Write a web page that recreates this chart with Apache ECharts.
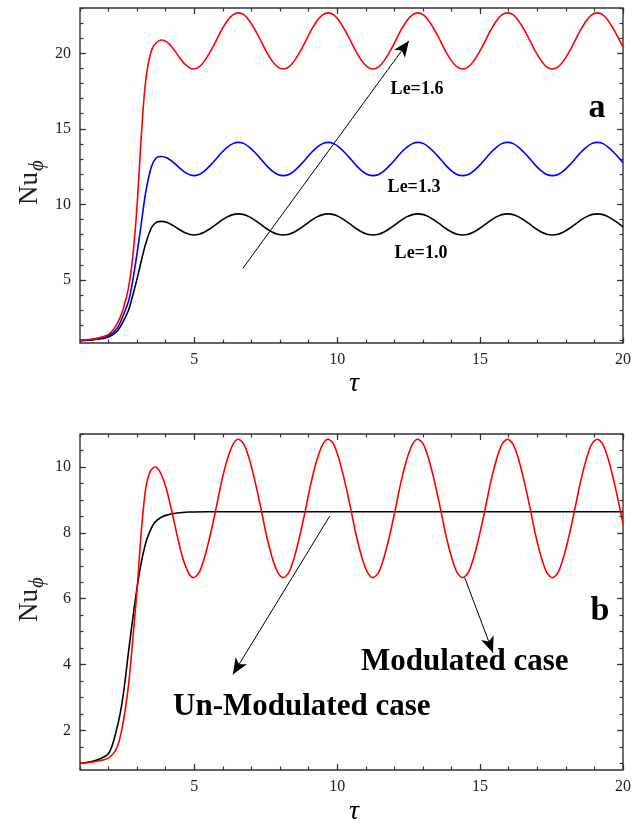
<!DOCTYPE html>
<html>
<head>
<meta charset="utf-8">
<script src="https://cdn.jsdelivr.net/npm/echarts@6/dist/echarts.min.js"></script>
<style>
html,body{margin:0;padding:0;background:#fff}
#main{width:643px;height:828px}
</style>
</head>
<body>
<div id="main"></div>
<script>
// tau samples: start-up part for each panel, then the oscillating part (shared)
var tauRiseA = [1.0, 1.5, 2.0, 2.3, 2.5, 2.7, 2.85, 3.0, 3.15, 3.3, 3.5, 3.68, 3.85, 4.05, 4.25, 4.45, 4.7];
var tauRiseB = [1.0, 1.5, 2.0, 2.3, 2.5, 2.7, 2.85, 3.0, 3.15, 3.3, 3.45, 3.62, 3.8, 4.0, 4.2, 4.4, 4.6, 4.8];
var tauWave = [
  4.97, 5.17, 5.36, 5.56, 5.76, 5.95, 6.15, 6.35, 6.54, 6.74, 6.93, 7.13, 7.33, 7.52, 7.72, 7.92,
  8.11, 8.31, 8.50, 8.70, 8.90, 9.09, 9.29, 9.49, 9.68, 9.88, 10.07, 10.27, 10.47, 10.66, 10.86, 11.06,
  11.25, 11.45, 11.64, 11.84, 12.04, 12.23, 12.43, 12.63, 12.82, 13.02, 13.21, 13.41, 13.61, 13.80, 14.00, 14.19,
  14.39, 14.59, 14.78, 14.98, 15.18, 15.37, 15.57, 15.76, 15.96, 16.16, 16.35, 16.55, 16.75, 16.94, 17.14, 17.33,
  17.53, 17.73, 17.92, 18.12, 18.32, 18.51, 18.71, 18.90, 19.10, 19.30, 19.49, 19.69, 19.89, 20.0];

// panel a: Nu_phi for Le = 1.6, 1.3, 1.0
var le16Rise = [1.02, 1.1, 1.38, 2.1, 3.0, 4.5, 6.6, 10.0, 14.7, 18.2, 20.2, 20.72, 20.88, 20.74, 20.33, 19.81, 19.23];
var le16Wave = [
  18.96, 19.10, 19.50, 20.11, 20.82, 21.53, 22.14, 22.54, 22.68, 22.54, 22.14, 21.53, 20.82, 20.11, 19.50, 19.10,
  18.96, 19.10, 19.50, 20.11, 20.82, 21.53, 22.14, 22.54, 22.68, 22.54, 22.14, 21.53, 20.82, 20.11, 19.50, 19.10,
  18.96, 19.10, 19.50, 20.11, 20.82, 21.53, 22.14, 22.54, 22.68, 22.54, 22.14, 21.53, 20.82, 20.11, 19.50, 19.10,
  18.96, 19.10, 19.50, 20.11, 20.82, 21.53, 22.14, 22.54, 22.68, 22.54, 22.14, 21.53, 20.82, 20.11, 19.50, 19.10,
  18.96, 19.10, 19.50, 20.11, 20.82, 21.53, 22.14, 22.54, 22.68, 22.54, 22.14, 21.53, 20.82, 20.4];
var le13Rise = [1.0, 1.07, 1.3, 1.8, 2.6, 3.6, 5.0, 6.8, 8.8, 10.8, 12.5, 13.1, 13.17, 13.07, 12.81, 12.47, 12.08];
var le13Wave = [
  11.9, 11.98, 12.22, 12.58, 13.0, 13.42, 13.78, 14.02, 14.1, 14.02, 13.78, 13.42, 13.0, 12.58, 12.22, 11.98,
  11.9, 11.98, 12.22, 12.58, 13.0, 13.42, 13.78, 14.02, 14.1, 14.02, 13.78, 13.42, 13.0, 12.58, 12.22, 11.98,
  11.9, 11.98, 12.22, 12.58, 13.0, 13.42, 13.78, 14.02, 14.1, 14.02, 13.78, 13.42, 13.0, 12.58, 12.22, 11.98,
  11.9, 11.98, 12.22, 12.58, 13.0, 13.42, 13.78, 14.02, 14.1, 14.02, 13.78, 13.42, 13.0, 12.58, 12.22, 11.98,
  11.9, 11.98, 12.22, 12.58, 13.0, 13.42, 13.78, 14.02, 14.1, 14.02, 13.78, 13.42, 13.0, 12.75];
var le10Rise = [0.98, 1.04, 1.22, 1.6, 2.2, 3.0, 4.0, 5.1, 6.3, 7.4, 8.45, 8.82, 8.87, 8.8, 8.61, 8.37, 8.1];
var le10Wave = [
  7.97, 8.02, 8.17, 8.40, 8.67, 8.94, 9.17, 9.32, 9.37, 9.32, 9.17, 8.94, 8.67, 8.40, 8.17, 8.02,
  7.97, 8.02, 8.17, 8.40, 8.67, 8.94, 9.17, 9.32, 9.37, 9.32, 9.17, 8.94, 8.67, 8.40, 8.17, 8.02,
  7.97, 8.02, 8.17, 8.40, 8.67, 8.94, 9.17, 9.32, 9.37, 9.32, 9.17, 8.94, 8.67, 8.40, 8.17, 8.02,
  7.97, 8.02, 8.17, 8.40, 8.67, 8.94, 9.17, 9.32, 9.37, 9.32, 9.17, 8.94, 8.67, 8.40, 8.17, 8.02,
  7.97, 8.02, 8.17, 8.40, 8.67, 8.94, 9.17, 9.32, 9.37, 9.32, 9.17, 8.94, 8.67, 8.5];

// panel b: modulated vs un-modulated
var modRise = [1.0, 1.05, 1.17, 1.5, 2.2, 3.4, 4.8, 6.3, 8.1, 9.35, 9.85, 10.0, 9.85, 9.4, 8.7, 7.92, 7.22, 6.78];
var modWave = [
  6.64, 6.80, 7.26, 7.94, 8.74, 9.54, 10.22, 10.68, 10.84, 10.68, 10.22, 9.54, 8.74, 7.94, 7.26, 6.80,
  6.64, 6.80, 7.26, 7.94, 8.74, 9.54, 10.22, 10.68, 10.84, 10.68, 10.22, 9.54, 8.74, 7.94, 7.26, 6.80,
  6.64, 6.80, 7.26, 7.94, 8.74, 9.54, 10.22, 10.68, 10.84, 10.68, 10.22, 9.54, 8.74, 7.94, 7.26, 6.80,
  6.64, 6.80, 7.26, 7.94, 8.74, 9.54, 10.22, 10.68, 10.84, 10.68, 10.22, 9.54, 8.74, 7.94, 7.26, 6.80,
  6.64, 6.80, 7.26, 7.94, 8.74, 9.54, 10.22, 10.68, 10.84, 10.68, 10.22, 9.54, 8.74, 8.26];
var tauUnmod = [1.0, 1.5, 2.0, 2.3, 2.5, 2.7, 2.9, 3.1, 3.3, 3.45, 3.6, 3.8, 4.0, 4.4, 4.8, 5.5, 20.0];
var nuUnmod = [1.0, 1.08, 1.3, 2.1, 3.0, 4.4, 5.75, 6.9, 7.7, 8.05, 8.3, 8.45, 8.53, 8.6, 8.63, 8.64, 8.64];

// ticks
var xMajor = [5, 10, 15, 20];
var xMinor = [1, 2, 3, 4, 5, 6, 7, 8, 9, 10, 11, 12, 13, 14, 15, 16, 17, 18, 19, 20];
var yMajorA = [5, 10, 15, 20];
var yMinorA = [1, 2, 3, 4, 5, 6, 7, 8, 9, 10, 11, 12, 13, 14, 15, 16, 17, 18, 19, 20, 21, 22, 23];
var yMajorB = [2, 4, 6, 8, 10];
var yMinorB = [1, 1.5, 2, 2.5, 3, 3.5, 4, 4.5, 5, 5.5, 6, 6.5, 7, 7.5, 8, 8.5, 9, 9.5, 10, 10.5, 11];

// arrows [from, to] in data units
var arrowA = [[6.70, 5.77], [12.51, 20.83]];
var arrowUnmod = [[9.74, 8.51], [6.35, 3.70]];
var arrowMod = [[14.46, 6.64], [15.45, 4.36]];

function pairs(xs, ys) {
  var out = [];
  for (var i = 0; i < xs.length; i++) out.push([xs[i], ys[i]]);
  return out;
}

var SERIF = '"Liberation Serif", "DejaVu Serif", serif';
var tickColor = '#333';

function axisSet(g, pos, min, max, major, minor, labels) {
  var base = {
    gridIndex: g, type: 'value', position: pos, min: min, max: max,
    axisLine: {show: false, onZero: false}, splitLine: {show: false}
  };
  var a = Object.assign({}, base, {
    axisTick: {inside: true, length: 6, customValues: major, lineStyle: {color: tickColor, width: 1.2}},
    axisLabel: labels ? {customValues: major, margin: 9, fontSize: 16, fontFamily: SERIF, color: '#222'} : {show: false}
  });
  var b = Object.assign({}, base, {
    axisTick: {inside: true, length: 3.5, customValues: minor, lineStyle: {color: tickColor, width: 1.2}},
    axisLabel: {show: false}
  });
  return [a, b];
}

var xAxes = [].concat(
  axisSet(0, 'bottom', 1, 20, xMajor, xMinor, true),
  axisSet(0, 'top', 1, 20, xMajor, xMinor, false),
  axisSet(1, 'bottom', 1, 20, xMajor, xMinor, true),
  axisSet(1, 'top', 1, 20, xMajor, xMinor, false)
);
var yAxes = [].concat(
  axisSet(0, 'left', 0.82, 23, yMajorA, yMinorA, true),
  axisSet(0, 'right', 0.82, 23, yMajorA, yMinorA, false),
  axisSet(1, 'left', 0.8, 11, yMajorB, yMinorB, true),
  axisSet(1, 'right', 0.8, 11, yMajorB, yMinorB, false)
);

function curve(xs, ys, color, g) {
  return {
    type: 'line', xAxisIndex: g * 4, yAxisIndex: g * 4,
    data: pairs(xs, ys), smooth: 0.3, symbol: 'none',
    lineStyle: {color: color, width: 1.6}, silent: true
  };
}

function arrowLine(a) {
  return [{coord: a[0]}, {coord: a[1]}];
}

var markStyle = {
  silent: true, symbol: ['none', 'arrow'], symbolSize: [10, 16],
  label: {show: false}, lineStyle: {color: '#000', width: 1, type: 'solid'},
  emphasis: {disabled: true}, animation: false
};

var sA = curve(tauRiseA.concat(tauWave), le10Rise.concat(le10Wave), '#000000', 0);
sA.markLine = Object.assign({}, markStyle, {data: [arrowLine(arrowA)]});
var sB = curve(tauUnmod, nuUnmod, '#000000', 1);
sB.markLine = Object.assign({}, markStyle, {data: [arrowLine(arrowUnmod), arrowLine(arrowMod)]});

function label(text, x, y, font, align) {
  return {type: 'text', x: x, y: y, silent: true,
    style: {text: text, font: font, fill: '#000', align: align || 'center', verticalAlign: 'middle'}};
}

function nuLabel(x, y) {
  return {type: 'group', x: x, y: y, rotation: Math.PI / 2, silent: true, children: [
    {type: 'text', x: 0, y: 0, style: {text: 'Nu', font: '27px ' + SERIF, fill: '#222', align: 'right', verticalAlign: 'bottom'}},
    {type: 'text', x: 1, y: 5, style: {text: 'ϕ', font: 'italic 21px ' + SERIF, fill: '#222', align: 'left', verticalAlign: 'bottom'}}
  ]};
}

var chart = echarts.init(document.getElementById('main'), null, {renderer: 'canvas'});
chart.setOption({
  animation: false,
  backgroundColor: '#fff',
  grid: [
    {left: 80, top: 8, width: 543, height: 335, show: true, borderColor: '#333', borderWidth: 1.4, containLabel: false},
    {left: 80, top: 434, width: 543, height: 336, show: true, borderColor: '#333', borderWidth: 1.4, containLabel: false}
  ],
  xAxis: xAxes,
  yAxis: yAxes,
  series: [
    sA,
    curve(tauRiseA.concat(tauWave), le13Rise.concat(le13Wave), '#0000ff', 0),
    curve(tauRiseA.concat(tauWave), le16Rise.concat(le16Wave), '#ff0000', 0),
    sB,
    curve(tauRiseB.concat(tauWave), modRise.concat(modWave), '#ff0000', 1)
  ],
  graphic: [
    nuLabel(43, 172),
    nuLabel(43, 589),
    label('τ', 354, 384, 'italic 28px ' + SERIF),
    label('τ', 354, 812, 'italic 28px ' + SERIF),
    label('Le=1.6', 417, 89, 'bold 18px ' + SERIF),
    label('Le=1.3', 414, 187, 'bold 18px ' + SERIF),
    label('Le=1.0', 421, 253, 'bold 18px ' + SERIF),
    label('a', 597, 108, 'bold 34px ' + SERIF),
    label('b', 600, 611, 'bold 34px ' + SERIF),
    label('Modulated case', 361, 662, 'bold 31px ' + SERIF, 'left'),
    label('Un-Modulated case', 173, 707, 'bold 31px ' + SERIF, 'left')
  ]
});
</script>
</body>
</html>
